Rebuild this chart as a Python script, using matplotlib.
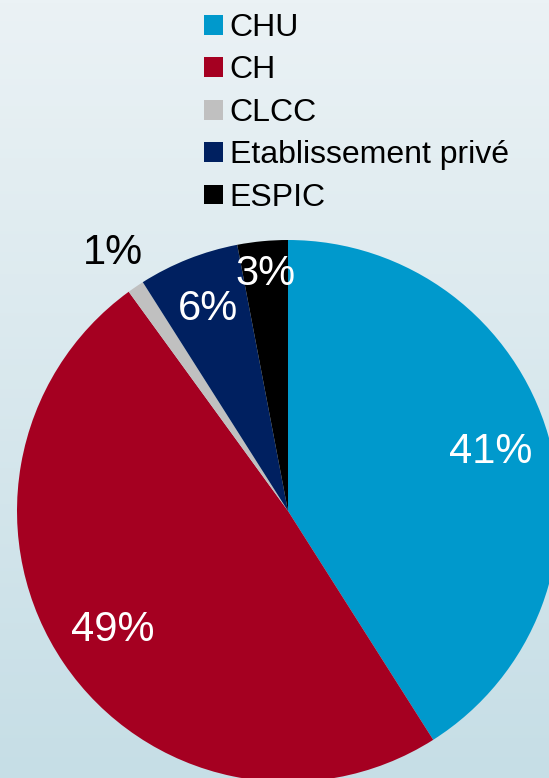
import matplotlib
matplotlib.use("Agg")
import matplotlib.pyplot as plt
import numpy as np
from matplotlib.patches import Patch
from matplotlib.colors import LinearSegmentedColormap

plt.rcParams['font.family'] = ['Liberation Sans', 'DejaVu Sans']

categories = ["CHU", "CH", "CLCC", "Etablissement privé", "ESPIC"]
shares = [41, 49, 1, 6, 3]
colors = ["#0099CC", "#A50021", "#C0C0C0", "#002060", "#000000"]
label_colors = ["white", "white", "black", "white", "white"]
label_dist = [0.78, 0.78, 1.15, 0.80, 0.88]

W, H = 549, 778
fig = plt.figure(figsize=(W / 100, H / 100), dpi=100)

# vertical background gradient
bg = fig.add_axes([0, 0, 1, 1])
bg.set_axis_off()
cmap = LinearSegmentedColormap.from_list("bg", ["#EBF2F5", "#C6DEE6"])
grad = np.linspace(0, 1, 256).reshape(-1, 1)
bg.imshow(grad, aspect="auto", cmap=cmap, extent=[0, 1, 0, 1], origin="upper")

ax = fig.add_axes([0, 0, 1, 1])
ax.set_axis_off()

cx, cy, r = 288, H - 511, 271
wedges, _ = ax.pie(shares, colors=colors, startangle=90, counterclock=False,
                   center=(cx, cy), radius=r, frame=True,
                   wedgeprops=dict(linewidth=0))
ax.set_xlim(0, W)
ax.set_ylim(0, H)
ax.set_aspect("equal")
ax.set_axis_off()

for w, val, col, d in zip(wedges, shares, label_colors, label_dist):
    mid = np.deg2rad((w.theta1 + w.theta2) / 2)
    ax.text(cx + d * r * np.cos(mid), cy + d * r * np.sin(mid), f"{val}%",
            ha="center", va="center", color=col, fontsize=30)

handles = [Patch(facecolor=c, edgecolor="none") for c in colors]
fig.legend(handles, categories, loc="upper left", bbox_to_anchor=(204 / W, 1 - 13 / H),
           frameon=False, fontsize=23, handlelength=0.58, handleheight=0.58,
           handletextpad=0.22, labelspacing=0.39, borderaxespad=0, borderpad=0)

fig.savefig("out.png", dpi=100)
